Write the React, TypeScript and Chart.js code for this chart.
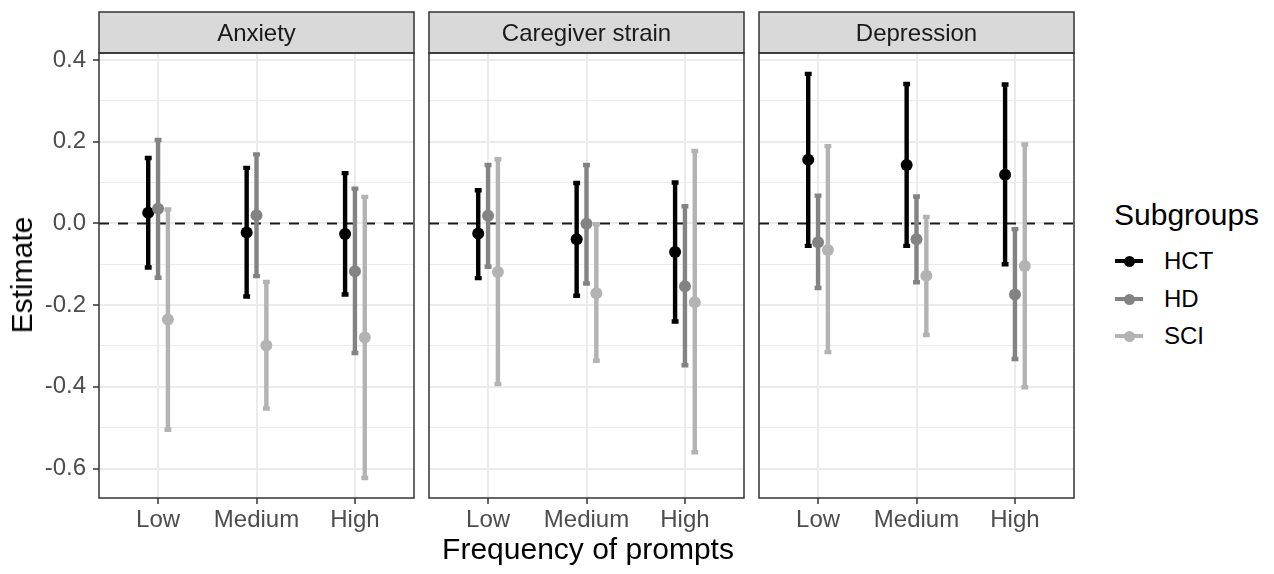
import React, { useEffect, useRef } from "react";
import { Chart, registerables } from "chart.js";

Chart.register(...registerables);

// ---------- data ----------
const categories = ["Low", "Medium", "High"];
const subgroups = ["HCT", "HD", "SCI"];
const facets = ["Anxiety", "Caregiver strain", "Depression"];
const yTickValues = [-0.6, -0.5, -0.4, -0.3, -0.2, -0.1, 0, 0.1, 0.2, 0.3, 0.4];
const referenceValue = 0;

// Anxiety
const anxietyHCT = { est: [0.026, -0.022, -0.026], lo: [-0.108, -0.179, -0.174], hi: [0.160, 0.136, 0.123] };
const anxietyHD = { est: [0.036, 0.020, -0.117], lo: [-0.133, -0.129, -0.317], hi: [0.204, 0.169, 0.085] };
const anxietySCI = { est: [-0.235, -0.299, -0.279], lo: [-0.505, -0.453, -0.623], hi: [0.034, -0.143, 0.065] };

// Caregiver strain
const strainHCT = { est: [-0.025, -0.039, -0.070], lo: [-0.134, -0.177, -0.240], hi: [0.081, 0.099, 0.100] };
const strainHD = { est: [0.019, -0.001, -0.154], lo: [-0.106, -0.147, -0.347], hi: [0.143, 0.143, 0.042] };
const strainSCI = { est: [-0.119, -0.171, -0.193], lo: [-0.393, -0.336, -0.560], hi: [0.157, -0.002, 0.177] };

// Depression
const depressionHCT = { est: [0.156, 0.143, 0.119], lo: [-0.055, -0.055, -0.100], hi: [0.366, 0.341, 0.340] };
const depressionHD = { est: [-0.046, -0.039, -0.174], lo: [-0.158, -0.144, -0.332], hi: [0.068, 0.066, -0.014] };
const depressionSCI = { est: [-0.065, -0.128, -0.104], lo: [-0.315, -0.273, -0.401], hi: [0.189, 0.016, 0.193] };

const facetData = [
  [anxietyHCT, anxietyHD, anxietySCI],
  [strainHCT, strainHD, strainSCI],
  [depressionHCT, depressionHD, depressionSCI],
];

// ---------- styles ----------
const FONT = "'Liberation Sans', Arial, Helvetica, sans-serif";
const colors = ["#000000", "#838383", "#b3b3b3"];
const dodge = [-0.1, 0, 0.1];
const capWidth = 0.07;
const SMALL = 24;
const BIG = 30;

const isMajor = (v: number) => Math.abs(Math.round(v * 10)) % 2 === 0;
const fmt = (v: number) => (Math.abs(v) < 1e-9 ? "0.0" : v.toFixed(1));

const facetPlugin = {
  id: "facetDecor",
  beforeDatasetsDraw(chart: any) {
    const { ctx, chartArea: a, scales } = chart;
    const x = scales.x;
    const y = scales.y;
    ctx.save();
    ctx.beginPath();
    ctx.rect(a.left, a.top, a.right - a.left, a.bottom - a.top);
    ctx.clip();
    // reference line
    const y0 = y.getPixelForValue(referenceValue);
    ctx.setLineDash([10, 9]);
    ctx.lineWidth = 2;
    ctx.strokeStyle = "#1a1a1a";
    ctx.beginPath();
    ctx.moveTo(a.left, y0);
    ctx.lineTo(a.right, y0);
    ctx.stroke();
    ctx.setLineDash([]);
    // error bars
    chart.data.datasets.forEach((ds: any) => {
      ctx.strokeStyle = ds.borderColor;
      ctx.lineWidth = 4.4;
      ctx.lineCap = "butt";
      ds.data.forEach((pt: any, i: number) => {
        const px = x.getPixelForValue(pt.x);
        const pl = y.getPixelForValue(ds.errorLow[i]);
        const ph = y.getPixelForValue(ds.errorHigh[i]);
        const half = (x.getPixelForValue(pt.x + capWidth / 2) - x.getPixelForValue(pt.x - capWidth / 2)) / 2;
        ctx.beginPath();
        ctx.moveTo(px - half, ph);
        ctx.lineTo(px + half, ph);
        ctx.moveTo(px, ph);
        ctx.lineTo(px, pl);
        ctx.moveTo(px - half, pl);
        ctx.lineTo(px + half, pl);
        ctx.stroke();
      });
    });
    ctx.restore();
  },
  afterDraw(chart: any) {
    const { ctx, chartArea: a } = chart;
    const title = chart.options.plugins.facetDecor.title;
    const stripTop = 12;
    const w = a.right - a.left;
    ctx.save();
    ctx.fillStyle = "#d9d9d9";
    ctx.fillRect(a.left, stripTop, w, a.top - stripTop);
    ctx.strokeStyle = "#333333";
    ctx.lineWidth = 1.5;
    ctx.strokeRect(a.left, stripTop, w, a.top - stripTop);
    ctx.strokeRect(a.left, a.top, w, a.bottom - a.top);
    ctx.fillStyle = "#1a1a1a";
    ctx.font = `${SMALL}px ${FONT}`;
    ctx.textAlign = "center";
    ctx.textBaseline = "alphabetic";
    const capCenter = (stripTop + a.top) / 2;
    ctx.fillText(title, (a.left + a.right) / 2, capCenter + 0.358 * SMALL);
    ctx.restore();
  },
};

function FacetPanel({ index, left, width, padLeft, showY }: { index: number; left: number; width: number; padLeft: number; showY: boolean }) {
  const ref = useRef<HTMLCanvasElement | null>(null);
  useEffect(() => {
    if (!ref.current) return;
    const groups = facetData[index];
    const datasets = subgroups.map((g, gi) => ({
      label: g,
      data: categories.map((_, ci) => ({ x: ci + 1 + dodge[gi], y: groups[gi].est[ci] })),
      errorLow: groups[gi].lo,
      errorHigh: groups[gi].hi,
      backgroundColor: colors[gi],
      borderColor: colors[gi],
      borderWidth: 0,
      pointRadius: 6,
      pointHoverRadius: 6,
      showLine: false,
      order: subgroups.length - gi,
    }));
    const chart = new Chart(ref.current, {
      type: "scatter",
      data: { datasets } as any,
      plugins: [facetPlugin],
      options: {
        animation: false,
        responsive: false,
        devicePixelRatio: 1,
        events: [],
        layout: { padding: { left: padLeft, right: 4, top: 53, bottom: 0 } },
        plugins: {
          legend: { display: false },
          tooltip: { enabled: false },
          facetDecor: { title: facets[index] },
        } as any,
        scales: {
          x: {
            type: "linear",
            min: 0.4,
            max: 3.6,
            afterBuildTicks: (s: any) => {
              s.ticks = categories.map((_, i) => ({ value: i + 1 }));
            },
            afterFit: (s: any) => {
              s.height = 76;
            },
            ticks: {
              callback: (v: any) => categories[Math.round(Number(v)) - 1],
              color: "#4d4d4d",
              font: { size: SMALL, family: FONT },
              padding: 2,
              maxRotation: 0,
              minRotation: 0,
              autoSkip: false,
            },
            grid: { color: "#ebebeb", lineWidth: 2, tickColor: "#333333", tickLength: 6, tickWidth: 1.5 },
            border: { display: false },
          },
          y: {
            type: "linear",
            min: -0.672,
            max: 0.417,
            afterBuildTicks: (s: any) => {
              s.ticks = yTickValues.map((v) => ({ value: v }));
            },
            afterFit: (s: any) => {
              s.width = showY ? 99 : 0;
            },
            ticks: {
              display: showY,
              autoSkip: false,
              callback: (v: any) => (isMajor(Number(v)) ? fmt(Number(v)) : ""),
              color: "#4d4d4d",
              font: { size: SMALL, family: FONT },
              padding: 7,
            },
            grid: {
              color: "#ebebeb",
              lineWidth: (c: any) => (c.tick && isMajor(c.tick.value) ? 2 : 1),
              drawTicks: showY,
              tickColor: (c: any) => (c.tick && isMajor(c.tick.value) ? "#333333" : "rgba(0,0,0,0)"),
              tickLength: 6,
              tickWidth: 1.5,
            },
            border: { display: false },
          },
        },
      } as any,
    });
    return () => chart.destroy();
  }, [index, padLeft, showY]);
  return (
    <canvas
      ref={ref}
      width={width}
      height={574}
      style={{ position: "absolute", left, top: 0, width, height: 574 }}
    />
  );
}

function LegendItem({ label, color, cy }: { label: string; color: string; cy: number }) {
  return (
    <>
      <div style={{ position: "absolute", left: 1115, top: cy - 2, width: 28, height: 4, background: color }} />
      <div
        style={{ position: "absolute", left: 1129 - 5.5, top: cy - 5.5, width: 11, height: 11, borderRadius: "50%", background: color }}
      />
      <div style={{ position: "absolute", left: 1164, top: cy - SMALL / 2, lineHeight: `${SMALL}px`, fontSize: SMALL, color: "#000", whiteSpace: "nowrap" }}>
        {label}
      </div>
    </>
  );
}

export default function App() {
  return (
    <div
      style={{
        position: "fixed",
        left: 0,
        top: 0,
        width: 1274,
        height: 574,
        background: "#ffffff",
        fontFamily: FONT,
        overflow: "hidden",
      }}
    >
      <FacetPanel index={0} left={0} width={420} padLeft={0} showY={true} />
      <FacetPanel index={1} left={420} width={330} padLeft={9} showY={false} />
      <FacetPanel index={2} left={750} width={330} padLeft={9} showY={false} />

      {/* y axis title */}
      <div
        style={{
          position: "absolute",
          left: 22,
          top: 275,
          transform: "translate(-50%, -50%) rotate(-90deg)",
          fontSize: BIG,
          lineHeight: `${BIG}px`,
          color: "#000",
          whiteSpace: "nowrap",
        }}
      >
        Estimate
      </div>

      {/* x axis title */}
      <div
        style={{
          position: "absolute",
          left: 588,
          top: 549 - BIG / 2,
          transform: "translateX(-50%)",
          fontSize: BIG,
          lineHeight: `${BIG}px`,
          color: "#000",
          whiteSpace: "nowrap",
        }}
      >
        Frequency of prompts
      </div>

      {/* legend */}
      <div
        style={{
          position: "absolute",
          left: 1114,
          top: 215 - BIG / 2,
          fontSize: BIG,
          lineHeight: `${BIG}px`,
          color: "#000",
          whiteSpace: "nowrap",
        }}
      >
        Subgroups
      </div>
      <LegendItem label={subgroups[0]} color={colors[0]} cy={261} />
      <LegendItem label={subgroups[1]} color={colors[1]} cy={299} />
      <LegendItem label={subgroups[2]} color={colors[2]} cy={336} />
    </div>
  );
}
